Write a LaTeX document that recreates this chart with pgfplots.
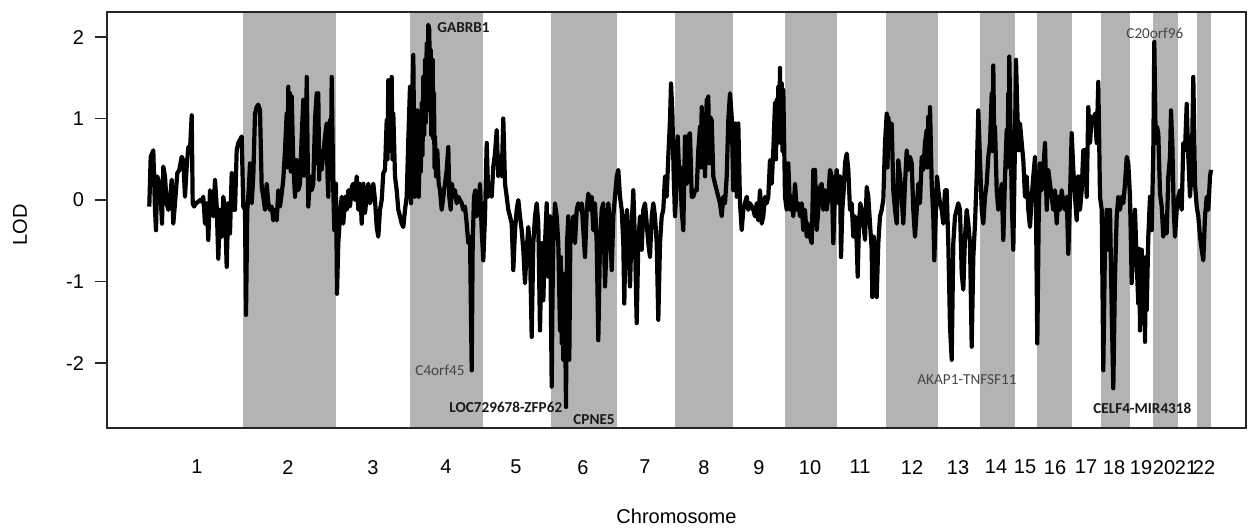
\documentclass[border=0pt]{standalone}
\usepackage{pgfplots}
\pgfplotsset{compat=1.18}
\usepackage{fontspec}
\setmainfont{Liberation Sans}
\newfontfamily\annfont{Carlito}
\definecolor{band}{RGB}{179,179,179}
\definecolor{anngray}{RGB}{70,70,70}
\begin{document}
\begin{tikzpicture}
\begin{axis}[
  name=ax,
  at={(0,0)}, anchor=south west,
  scale only axis,
  width=569.5pt, height=208pt,
  xmin=107, xmax=1246,
  ymin=-2.797, ymax=2.307,
  axis on top,
  clip=true,
  axis line style={line width=0.6pt, black!85},
  tick align=outside,
  major tick length=6pt,
  tick style={line width=0.6pt, black!85},
  xtick pos=left, ytick pos=left,
  xtick={197,288,373,446,516,583,645,704,759,810,860,912,958,996,1025,1055,1086,1114,1141,1164,1186,1204},
  xticklabels={1,2,3,4,5,6,7,8,9,10,11,12,13,14,15,16,17,18,19,20,21,22},
  xtick style={draw=none},
  xticklabel style={yshift=-6.5pt},
  ytick={-2,-1,0,1,2},
  yticklabels={-2,-1,0,1,2},
  yticklabel style={xshift=-2pt},
  tick label style={font=\fontsize{10}{12}\selectfont},
  xlabel={Chromosome},
  label style={font=\fontsize{10}{12}\selectfont},
  xlabel style={at={(axis description cs:0.5,-0.2115)}, anchor=center},
]
% chromosome bands
\addplot[fill=band, draw=none] coordinates {(243,-5) (243,5) (336,5) (336,-5)} -- cycle;
\addplot[fill=band, draw=none] coordinates {(410,-5) (410,5) (483,5) (483,-5)} -- cycle;
\addplot[fill=band, draw=none] coordinates {(551,-5) (551,5) (617,5) (617,-5)} -- cycle;
\addplot[fill=band, draw=none] coordinates {(675,-5) (675,5) (733,5) (733,-5)} -- cycle;
\addplot[fill=band, draw=none] coordinates {(785,-5) (785,5) (837,5) (837,-5)} -- cycle;
\addplot[fill=band, draw=none] coordinates {(886,-5) (886,5) (938,5) (938,-5)} -- cycle;
\addplot[fill=band, draw=none] coordinates {(980,-5) (980,5) (1015,5) (1015,-5)} -- cycle;
\addplot[fill=band, draw=none] coordinates {(1037,-5) (1037,5) (1072,5) (1072,-5)} -- cycle;
\addplot[fill=band, draw=none] coordinates {(1101,-5) (1101,5) (1130,5) (1130,-5)} -- cycle;
\addplot[fill=band, draw=none] coordinates {(1153,-5) (1153,5) (1178,5) (1178,-5)} -- cycle;
\addplot[fill=band, draw=none] coordinates {(1197,-5) (1197,5) (1211,5) (1211,-5)} -- cycle;
% LOD trace
\addplot[black, line width=2.1pt, line join=round, mark=none] table {
x y
149.3 -0.08
150.7 0.53
153.3 0.61
155.0 -0.12
156.0 -0.37
157.3 0.29
159.3 0.20
160.7 0.04
162.0 -0.29
163.3 0.41
165.0 0.29
166.7 -0.04
168.3 -0.12
170.0 0.00
171.7 0.25
173.3 -0.29
175.0 -0.04
177.3 0.33
179.3 0.37
181.7 0.53
183.3 0.49
185.0 0.04
186.7 0.41
188.3 0.65
190.0 0.61
191.7 1.04
192.7 -0.04
194.0 -0.08
196.0 -0.04
198.3 -0.02
200.0 0.00
201.7 -0.02
203.3 0.04
205.0 -0.29
206.7 -0.04
208.3 -0.49
210.0 0.12
211.7 -0.12
213.3 -0.20
215.0 0.25
216.7 -0.08
218.3 -0.72
220.0 -0.12
221.7 -0.45
223.3 0.04
225.0 -0.12
226.7 -0.82
228.3 -0.04
230.0 -0.41
231.7 0.33
233.3 -0.12
235.0 -0.12
236.7 0.61
238.3 0.70
240.0 0.74
241.7 0.78
243.3 -0.08
245.0 -0.12
246.0 -1.41
247.3 -0.12
248.7 0.12
250.0 0.45
251.7 -0.04
253.3 0.29
255.0 1.06
256.7 1.14
258.3 1.17
260.0 1.10
261.7 0.16
263.3 0.04
265.0 -0.12
266.7 0.20
268.3 -0.04
270.0 -0.12
271.7 -0.08
273.3 -0.25
275.0 -0.12
276.7 -0.25
278.3 0.12
280.0 -0.08
281.7 0.08
283.3 0.25
285.0 0.61
286.7 1.06
287.5 0.40
288.3 1.39
289.2 0.55
290.0 1.31
290.8 0.35
291.7 1.27
293.3 0.45
295.0 0.04
296.7 0.49
298.3 0.12
300.0 0.20
301.7 0.78
303.3 1.23
304.2 0.30
305.0 0.78
305.8 0.30
306.7 1.51
308.3 -0.08
310.0 0.29
311.7 0.12
313.3 0.20
315.0 0.98
316.7 1.31
317.5 0.45
318.3 1.31
319.2 0.25
320.0 0.61
321.7 0.37
323.3 0.57
325.0 0.78
326.7 0.94
327.5 0.30
328.3 0.04
330.0 0.98
330.8 0.30
331.7 1.51
333.3 0.12
334.3 -0.37
336.0 0.20
337.0 -1.15
338.3 -0.53
340.0 -0.20
341.7 0.04
343.3 -0.29
345.0 0.04
346.7 -0.12
348.3 0.12
350.0 -0.08
351.7 0.16
353.3 0.20
355.0 0.00
356.7 0.29
358.3 -0.12
360.0 0.20
361.7 -0.29
363.3 0.20
365.0 -0.16
366.7 0.04
368.3 0.20
370.0 -0.04
371.7 0.04
373.3 0.20
375.0 0.00
376.7 -0.33
378.3 -0.45
380.0 -0.12
381.7 0.00
383.3 0.33
385.0 0.37
386.7 0.98
387.5 0.50
388.3 1.47
389.2 0.60
390.0 1.43
390.8 0.70
391.7 1.51
392.5 0.50
393.3 1.06
395.0 0.29
396.7 0.12
398.3 -0.12
400.0 -0.20
401.7 -0.29
403.3 -0.33
405.0 -0.12
406.7 0.04
408.3 0.74
410.0 1.39
411.0 -0.04
412.0 1.10
413.3 1.78
414.7 0.04
416.0 0.29
417.3 1.10
418.7 0.04
420.0 0.78
420.8 0.35
421.7 1.19
422.5 0.55
423.3 1.51
424.2 0.80
425.0 1.72
425.8 0.95
426.7 1.92
427.5 1.20
428.3 2.15
429.3 2.09
430.0 1.10
430.7 1.84
431.2 0.80
431.7 1.35
432.7 1.72
433.3 0.75
434.0 1.31
434.5 0.40
435.0 0.78
436.0 0.29
437.3 0.61
438.7 0.20
440.0 0.12
441.7 -0.12
443.3 0.04
445.0 0.20
446.7 0.37
448.3 0.65
449.3 0.04
450.7 -0.12
452.0 0.20
453.3 0.04
455.0 0.12
456.7 -0.04
458.3 0.04
460.0 0.00
461.7 -0.04
463.3 -0.12
465.0 -0.08
466.7 -0.29
468.3 -0.53
470.0 -0.45
471.7 -2.09
472.7 -0.53
474.0 0.04
475.3 0.12
476.7 -0.20
478.3 -0.12
480.0 0.20
481.7 -0.37
483.3 -0.74
485.0 -0.20
486.7 0.70
488.3 0.04
490.0 0.20
491.7 0.04
493.3 0.41
495.0 0.57
496.7 0.86
498.3 0.29
500.0 0.53
501.7 0.29
503.3 1.00
505.0 0.20
506.7 0.04
508.3 -0.12
510.0 -0.20
511.7 -0.29
513.3 -0.86
515.0 -0.37
516.7 -0.12
518.3 0.00
520.0 -0.20
521.7 -0.37
523.3 -0.61
525.0 -1.02
526.7 -0.61
528.3 -0.33
530.0 -0.61
531.7 -1.68
533.3 -0.53
535.0 -0.20
536.7 -0.04
538.3 -0.29
540.0 -1.60
541.7 -0.53
543.3 -1.23
545.0 -0.53
546.7 -0.04
548.3 -0.94
550.0 -0.20
551.7 -2.29
552.5 -1.20
553.3 -0.53
555.0 -0.04
556.7 -0.20
558.3 -0.53
560.0 -1.60
560.8 -0.70
561.7 -1.76
562.5 -0.90
563.3 -1.96
564.2 -1.00
565.0 -1.35
566.0 -2.54
567.0 -0.53
568.3 -0.20
569.3 -1.96
570.3 -0.53
571.7 -0.37
573.3 -0.20
575.0 -0.53
576.7 -0.12
578.3 -0.04
580.0 -0.12
581.7 -0.04
583.3 -0.37
585.0 -0.70
586.7 -0.12
588.3 0.08
590.0 -0.12
591.7 0.04
593.3 -0.37
595.0 -0.04
596.7 -0.53
598.3 -1.72
600.0 -0.53
601.7 -0.12
603.3 -0.04
605.0 -1.06
606.7 -0.53
608.3 -0.04
610.0 -0.29
611.7 -0.86
613.3 -0.20
615.0 0.04
616.7 0.29
618.3 0.37
620.0 0.04
621.7 -0.12
623.3 -0.53
624.3 -1.27
625.7 -0.29
627.0 -0.12
628.3 -0.53
630.0 -1.06
631.7 -0.29
633.3 0.12
635.0 -0.53
636.7 -1.51
638.3 -0.53
640.0 -0.20
641.7 -0.61
643.3 -0.12
645.0 -0.04
646.7 -0.29
648.3 -0.53
650.0 -0.70
651.7 -0.20
653.3 -0.04
655.0 -0.20
656.7 -0.53
658.3 -1.47
660.0 -0.53
661.7 -0.20
663.3 -0.12
665.0 0.29
666.7 0.04
668.3 0.53
670.0 0.98
671.0 1.43
672.3 1.10
673.7 0.29
675.0 -0.20
676.0 0.04
677.7 0.78
679.3 0.29
680.0 0.41
681.7 -0.12
683.3 -0.37
685.0 0.78
686.7 0.20
688.3 0.78
690.0 0.82
691.7 0.04
693.3 0.04
695.0 0.12
696.7 0.12
698.3 0.61
700.0 0.90
700.8 0.40
701.7 1.14
702.5 0.50
703.3 1.06
705.0 0.29
706.7 1.23
707.5 0.50
708.3 1.27
709.2 0.45
710.0 1.02
711.7 0.98
713.3 0.29
715.0 0.20
716.7 0.12
718.3 0.04
720.0 -0.04
721.7 -0.20
723.3 0.04
725.0 -0.04
726.7 0.29
728.3 0.98
730.0 1.31
731.7 1.02
733.3 0.12
735.0 0.94
736.7 0.04
738.3 0.94
740.0 -0.04
741.7 -0.37
743.3 -0.12
745.0 -0.04
746.7 0.04
748.3 -0.12
750.0 -0.04
751.7 -0.08
753.3 -0.12
755.0 -0.20
756.7 -0.04
758.3 -0.25
760.0 0.12
761.7 -0.29
763.3 -0.20
765.0 0.04
766.7 -0.04
768.3 0.04
770.0 0.49
771.7 0.20
773.3 0.61
775.0 1.19
776.0 0.50
776.7 1.23
777.5 0.70
778.3 1.39
779.2 0.80
780.0 1.62
780.8 0.70
781.7 1.43
782.5 0.60
783.3 1.35
785.0 0.04
786.7 -0.12
788.3 0.45
790.0 -0.12
791.7 0.04
793.3 -0.20
795.0 0.20
796.7 -0.12
798.3 -0.04
800.0 -0.20
801.7 -0.04
803.3 -0.37
805.0 -0.12
806.7 -0.45
808.3 -0.29
810.0 -0.45
811.7 -0.53
813.3 0.37
815.0 0.37
816.7 -0.37
818.3 -0.12
820.0 0.16
821.7 0.20
823.3 -0.12
825.0 0.12
826.7 -0.12
828.3 0.04
830.0 0.37
831.7 0.29
833.3 -0.53
835.0 0.12
836.7 0.37
838.3 -0.04
840.0 0.29
841.0 -0.70
842.3 -0.12
843.7 0.12
845.0 0.45
846.7 0.57
848.3 0.37
850.0 -0.12
851.7 -0.04
853.3 -0.45
855.0 -0.20
856.7 -0.53
857.7 -0.94
859.0 -0.29
860.3 -0.04
861.7 -0.12
863.3 -0.29
865.0 -0.49
866.7 0.16
868.3 0.04
870.0 -0.29
871.7 -0.61
872.3 -1.19
873.7 -0.45
875.0 -0.78
876.7 -1.19
878.3 -0.53
880.0 -0.20
881.7 -0.12
883.3 0.00
885.0 0.70
886.7 1.06
887.5 0.40
888.3 1.02
890.0 0.78
891.7 0.94
893.3 0.12
895.0 -0.12
896.7 -0.29
898.3 0.49
900.0 0.29
901.7 0.04
903.3 -0.29
905.0 0.20
906.7 0.61
908.3 0.37
910.0 0.53
911.7 0.45
913.3 -0.12
915.0 -0.45
916.7 -0.12
918.3 0.20
920.0 -0.04
921.7 0.53
923.3 0.37
925.0 0.70
926.7 0.86
927.5 0.40
928.3 1.02
929.2 0.50
930.0 1.14
931.7 0.20
933.3 -0.20
934.3 -0.74
935.7 -0.20
937.0 0.29
938.3 0.12
940.0 -0.04
941.7 -0.12
943.3 -0.29
945.0 0.12
946.7 0.12
948.3 -0.53
950.0 -1.55
951.7 -1.96
953.3 -0.53
955.0 -0.20
956.7 -0.12
958.3 -0.04
960.0 -0.12
961.7 -0.90
963.3 -1.10
965.0 -0.45
966.7 -0.12
968.3 -0.29
970.0 -0.53
971.7 -1.80
973.3 -0.70
975.0 -0.29
976.7 0.29
978.3 1.10
980.0 0.49
981.7 -0.12
983.3 -0.29
985.0 0.04
986.7 0.20
988.3 0.53
990.0 0.70
991.7 1.31
992.5 0.60
993.3 1.65
994.2 0.70
995.0 0.90
996.7 0.12
998.3 -0.12
1000.0 0.00
1001.7 0.20
1003.3 -0.49
1005.0 0.29
1006.7 0.86
1007.5 0.40
1008.3 1.31
1008.8 0.60
1009.3 1.76
1010.7 0.70
1012.0 -0.12
1013.3 -0.61
1014.7 0.49
1016.0 1.72
1017.3 1.10
1018.7 0.61
1020.0 0.94
1021.7 0.70
1023.3 0.49
1025.0 0.04
1026.7 0.29
1028.3 -0.12
1030.0 -0.33
1031.7 0.04
1033.3 0.29
1035.0 0.53
1036.0 -0.12
1037.3 -1.76
1038.7 -0.20
1040.0 0.45
1041.7 0.12
1043.3 0.37
1045.0 0.70
1046.7 -0.12
1048.3 0.37
1050.0 0.20
1051.7 0.04
1053.3 -0.12
1055.0 0.12
1056.7 -0.29
1058.3 0.04
1060.0 -0.12
1061.7 0.12
1063.3 -0.04
1065.0 -0.12
1066.7 0.04
1068.3 -0.66
1070.0 0.04
1071.7 0.82
1073.3 0.37
1075.0 0.04
1076.7 -0.25
1078.3 0.29
1080.0 -0.12
1081.7 0.12
1083.3 0.61
1085.0 0.61
1086.7 0.04
1088.3 1.14
1090.0 0.70
1091.7 1.02
1093.3 0.98
1095.0 1.06
1096.7 0.70
1098.3 1.45
1100.0 0.04
1101.7 -0.12
1103.3 -2.09
1105.0 -0.53
1106.7 -0.12
1108.3 -0.61
1110.0 -0.12
1111.7 -1.35
1113.3 -2.31
1115.0 -0.94
1116.7 -0.20
1118.3 0.04
1120.0 -0.12
1121.7 0.04
1123.3 -0.04
1125.0 0.20
1126.7 0.53
1128.3 0.45
1130.0 0.04
1131.7 -1.02
1133.3 -0.53
1135.0 -0.12
1136.7 -0.78
1138.3 -1.27
1139.2 -0.60
1140.0 -1.60
1141.7 -0.61
1143.3 -1.51
1144.2 -0.80
1145.0 -1.74
1145.8 -0.70
1146.7 -1.35
1148.3 -0.45
1150.0 0.04
1151.7 -0.37
1153.3 0.61
1154.3 1.94
1155.7 0.70
1157.0 0.90
1158.3 0.82
1160.0 0.08
1161.7 -0.08
1163.3 -0.45
1165.0 -0.20
1166.7 -0.41
1168.3 0.29
1170.0 0.53
1171.0 1.10
1172.3 0.70
1173.7 -0.12
1175.0 -0.45
1176.7 -0.12
1178.3 0.04
1180.0 0.12
1181.7 -0.12
1183.3 0.70
1185.0 0.61
1186.7 1.18
1188.3 0.53
1190.0 0.04
1191.7 0.37
1193.3 1.51
1195.0 0.20
1196.7 -0.08
1198.3 -0.20
1200.0 -0.45
1201.7 -0.61
1203.3 -0.74
1205.0 -0.20
1206.7 0.04
1208.3 -0.12
1210.0 0.29
1211.0 0.37
};
% gene annotations
\node[anchor=west, inner sep=0pt, font=\annfont\bfseries\fontsize{7.6}{9}\selectfont, text=black!90] at (axis cs:437,2.11) {GABRB1};
\node[anchor=west, inner sep=0pt, font=\annfont\fontsize{7.6}{9}\selectfont, text=anngray] at (axis cs:415,-2.09) {C4orf45};
\node[anchor=west, inner sep=0pt, font=\annfont\bfseries\fontsize{7.6}{9}\selectfont, text=black!90] at (axis cs:449,-2.54) {LOC729678-ZFP62};
\node[anchor=west, inner sep=0pt, font=\annfont\bfseries\fontsize{7.6}{9}\selectfont, text=black!90] at (axis cs:573,-2.69) {CPNE5};
\node[anchor=west, inner sep=0pt, font=\annfont\fontsize{7.6}{9}\selectfont, text=anngray] at (axis cs:917,-2.20) {AKAP1-TNFSF11};
\node[anchor=west, inner sep=0pt, font=\annfont\bfseries\fontsize{7.6}{9}\selectfont, text=black!90] at (axis cs:1093,-2.56) {CELF4-MIR4318};
\node[anchor=west, inner sep=0pt, font=\annfont\fontsize{7.6}{9}\selectfont, text=anngray] at (axis cs:1126,2.04) {C20orf96};
\end{axis}
\node[rotate=90, font=\fontsize{10}{12}\selectfont] at (-43.5pt,101.5pt) {LOD};
\pgfresetboundingbox
\path[use as bounding box] (-53.5pt,-50.5pt) rectangle (570.5pt,214pt);
\end{tikzpicture}
\end{document}
